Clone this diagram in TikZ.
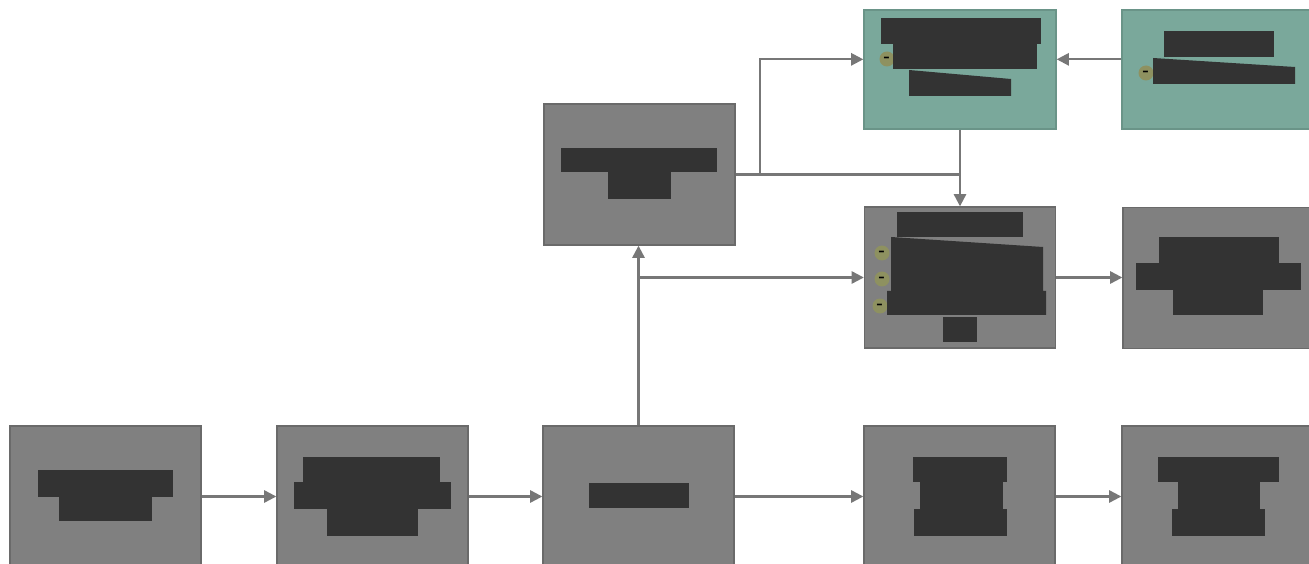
\documentclass[tikz,border=0pt]{standalone}
\usetikzlibrary{arrows.meta}
\definecolor{boxgray}{HTML}{808080}
\definecolor{boxedge}{HTML}{6A6A6A}
\definecolor{boxteal}{HTML}{7AA89B}
\definecolor{tealedge}{HTML}{6A9488}
\definecolor{barfill}{HTML}{333333}
\definecolor{wire}{HTML}{777777}
\definecolor{olive}{HTML}{8E9160}
\tikzset{
  gbox/.style={rectangle,draw=boxedge,line width=0.8pt,fill=boxgray,
    minimum width=3.82cm,minimum height=2.82cm,inner sep=0pt},
  tbox/.style={gbox,draw=tealedge,fill=boxteal,minimum width=3.84cm,minimum height=2.38cm},
  bar/.style={fill=barfill},
  minus/.style={circle,fill=olive,inner sep=0pt,minimum size=0.3cm,font=\small\bfseries},
  wireline/.style={draw=wire,line width=1.3pt},
  arr/.style={wireline,-{Triangle[length=7pt,width=7pt]}}
}
\begin{document}
\begin{tikzpicture}[x=0.02cm,y=-0.02cm]
\useasboundingbox (0,0) rectangle (1309,564);

\node[gbox] (load) at (105.5,496.5) {};
\node[gbox] (parse) at (372.5,496.5) {};
\node[gbox] (split) at (638.5,496.5) {};
\node[gbox] (merge) at (959.5,496.5) {};
\node[gbox] (store) at (1217.5,496.5) {};
\node[gbox] (index) at (639.5,174.5) {};
\node[tbox] (query) at (960,69.5) {};
\node[tbox] (source) at (1218,69.5) {};
\node[gbox] (rank) at (960,277.5) {};
\node[gbox] (result) at (1218.5,278) {};

\draw[arr] (load.east) -- (parse.west);
\draw[arr] (parse.east) -- (split.west);
\draw[arr] (split.east) -- (merge.west);
\draw[arr] (merge.east) -- (store.west);
\draw[arr] (split.north) -- (split.north |- index.south);
\draw[arr] (split.north |- rank.west) -- (rank.west);
\draw[arr] (index.east) -- ++(24,0) |- (query.174);
\draw[wireline] (index.east) -- (index.east -| rank.north);
\draw[arr] (query.south) -- (rank.north);
\draw[arr] (source.174) -- (query.6);
\draw[arr] (rank.east) -- (rank.east -| result.west);

\fill[bar] (38,470) rectangle (173,497);
\fill[bar] (59,497) rectangle (152,521);

\fill[bar] (303,457) rectangle (440,482);
\fill[bar] (294,482) rectangle (451,509);
\fill[bar] (327,509) rectangle (418,536);

\fill[bar] (589,483) rectangle (689,508);

\fill[bar] (913,457) rectangle (1007,482);
\fill[bar] (920,482) rectangle (1003,509);
\fill[bar] (914,509) rectangle (1007,536);

\fill[bar] (1158,457) rectangle (1279,482);
\fill[bar] (1178,482) rectangle (1260,509);
\fill[bar] (1172,509) rectangle (1265,536);

\fill[bar] (561,148) rectangle (717,172);
\fill[bar] (608,172) rectangle (671,199);

\node[minus] (q1) at (887,59) {-};
\fill[bar] (881,18) rectangle (1041,44);
\fill[bar] (893,44) rectangle (1037,69);
\fill[bar] (909,70) -- (1011,79) -- (1011,96) -- (909,96) -- cycle;

\node[minus] (s1) at (1146,73) {-};
\fill[bar] (1164,31) rectangle (1274,57);
\fill[bar] (1153,58) -- (1295,67) -- (1295,84) -- (1153,84) -- cycle;

\node[minus] (r1) at (882,253) {-};
\node[minus] (r2) at (882,279) {-};
\node[minus] (r3) at (880,306) {-};
\fill[bar] (897,212) rectangle (1023,237);
\fill[bar] (891,237) -- (1043,247) -- (1043,291) -- (1046,291) -- (1046,315)
  -- (887,315) -- (887,291) -- (891,291) -- cycle;
\fill[bar] (943,317) rectangle (977,342);

\fill[bar] (1159,237) rectangle (1279,263);
\fill[bar] (1136,263) rectangle (1301,290);
\fill[bar] (1173,290) rectangle (1263,315);
\end{tikzpicture}
\end{document}
